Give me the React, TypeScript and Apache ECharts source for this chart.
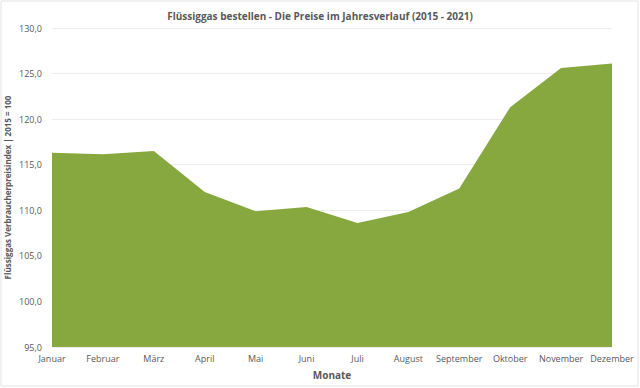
import React, { useEffect, useRef } from "react";
import * as echarts from "echarts";

const months = ["Januar", "Februar", "März", "April", "Mai", "Juni", "Juli", "August", "September", "Oktober", "November", "Dezember"];
const priceIndex = [116.3, 116.15, 116.5, 112.0, 109.9, 110.35, 108.6, 109.8, 112.4, 121.3, 125.6, 126.1];
const titleText = "Flüssiggas bestellen - Die Preise im Jahresverlauf (2015 - 2021)";
const xAxisName = "Monate";
const yAxisName = "Flüssiggas Verbraucherpreisindex | 2015 = 100";
const yMin = 95;
const yMax = 130;
const yStep = 5;

const FONT = "'Open Sans', 'Noto Sans', sans-serif";
const TEXT = "#595959";

export default function App() {
  const ref = useRef<HTMLDivElement>(null);
  useEffect(() => {
    if (!ref.current) return;
    const chart = echarts.init(ref.current, undefined, { renderer: "svg" });
    chart.setOption({
      animation: false,
      backgroundColor: "#ffffff",
      title: {
        text: titleText,
        left: "center",
        top: 6,
        textStyle: { fontFamily: FONT, fontSize: 10, fontWeight: "bold", color: TEXT },
      },
      graphic: [
        {
          type: "rect",
          shape: { x: 1, y: 1, width: 637, height: 385 },
          style: { fill: "none", stroke: "#e3e3e3", lineWidth: 1 },
          silent: true,
        },
      ],
      grid: { left: 52, right: 28, top: 28, bottom: 41, containLabel: false, outerBoundsMode: "none" },
      xAxis: {
        type: "category",
        data: months,
        boundaryGap: false,
        name: xAxisName,
        nameLocation: "middle",
        nameGap: 23,
        nameMoveOverlap: false,
        nameTextStyle: { fontFamily: FONT, fontSize: 10, fontWeight: "bold", color: TEXT },
        axisLine: { show: false },
        axisTick: { show: false },
        axisLabel: { fontFamily: FONT, fontSize: 9, color: TEXT, margin: 7, interval: 0 },
      },
      yAxis: {
        type: "value",
        min: yMin,
        max: yMax,
        interval: yStep,
        name: yAxisName,
        nameLocation: "middle",
        nameGap: 41,
        nameMoveOverlap: false,
        nameRotate: 90,
        nameTextStyle: { fontFamily: FONT, fontSize: 8, fontWeight: "bold", color: TEXT },
        axisLine: { show: false },
        axisTick: { show: false },
        splitLine: { lineStyle: { color: "#ececec", width: 1 } },
        axisLabel: {
          fontFamily: FONT,
          fontSize: 9,
          color: TEXT,
          margin: 10,
          formatter: (v: number) => v.toFixed(1).replace(".", ","),
        },
      },
      series: [
        {
          type: "line",
          data: priceIndex,
          symbol: "none",
          lineStyle: { width: 0 },
          areaStyle: { color: "#86a83e", opacity: 1, origin: "start" },
        },
      ],
    });
    return () => chart.dispose();
  }, []);
  return <div ref={ref} style={{ position: "fixed", left: 0, top: 0, width: 640, height: 388 }} />;
}
